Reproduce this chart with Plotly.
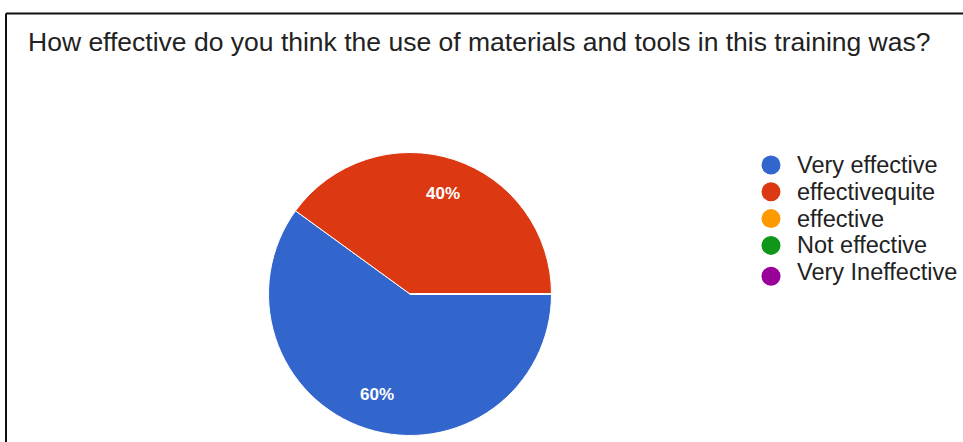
import math
import plotly.graph_objects as go

W, H = 963, 442

categories = ["Very effective", "effectivequite", "effective", "Not effective", "Very Ineffective"]
counts = [3, 2, 0, 0, 0]
colors = ["#3366CC", "#DC3912", "#FF9900", "#109618", "#990099"]
title_text = "How effective do you think the use of materials and tools in this training was?"

fig = go.Figure()

# pie geometry (pixels)
cx, cy, r = 410, 294, 141.5
start_deg = 0.0  # first slice starts at 3 o'clock, going clockwise

fig.add_trace(go.Pie(
    labels=categories,
    values=counts,
    sort=False,
    direction="clockwise",
    rotation=90 - start_deg,
    marker=dict(colors=colors, line=dict(color="white", width=1)),
    textinfo="none",
    showlegend=False,
    hoverinfo="label+percent",
    domain=dict(x=[(cx - r) / W, (cx + r) / W], y=[1 - (cy + r) / H, 1 - (cy - r) / H]),
))

annotations = []

# percentage labels placed along each slice's bisector
total = sum(counts)
ang = start_deg
for c in counts:
    if c <= 0:
        continue
    span = 360.0 * c / total
    mid = math.radians(ang - span / 2)
    px = cx + 0.75 * r * math.cos(mid)
    py = cy - 0.75 * r * math.sin(mid)
    annotations.append(dict(
        x=px / W, y=1 - py / H, xref="paper", yref="paper",
        text=f"<b>{round(100 * c / total)}%</b>", showarrow=False,
        xanchor="center", yanchor="middle",
        font=dict(size=17, color="white", family="Liberation Sans, Arial"),
    ))
    ang -= span

# custom legend with round markers
leg_x_marker, leg_x_text, leg_y0, leg_dy = 771, 795, 165, 26.8
shapes = []
for i, (name, col) in enumerate(zip(categories, colors)):
    yy = leg_y0 + i * leg_dy
    shapes.append(dict(
        type="circle", xref="paper", yref="paper",
        xsizemode="pixel", ysizemode="pixel",
        xanchor=leg_x_marker / W, yanchor=1 - (yy + (4 if i == 4 else 0)) / H,
        x0=-9.5, x1=9.5, y0=-9.5, y1=9.5,
        fillcolor=col, line=dict(width=0),
    ))
    annotations.append(dict(
        x=leg_x_text / W, y=1 - yy / H, xref="paper", yref="paper",
        text=name, showarrow=False, xanchor="left", yanchor="middle",
        font=dict(size=23.5, color="#222222", family="Liberation Sans, Arial"),
    ))

# frame lines (top and left)
shapes += [
    dict(type="line", xref="paper", yref="paper",
         x0=6 / W, x1=1.01, y0=1 - 13.5 / H, y1=1 - 13.5 / H,
         line=dict(color="#111111", width=2)),
    dict(type="line", xref="paper", yref="paper",
         x0=6 / W, x1=6 / W, y0=1 - 13.5 / H, y1=-0.01,
         line=dict(color="#111111", width=2)),
]

fig.update_xaxes(visible=False)
fig.update_yaxes(visible=False)

fig.update_layout(
    width=W, height=H,
    margin=dict(l=0, r=0, t=0, b=0),
    paper_bgcolor="white",
    plot_bgcolor="white",
    showlegend=False,
    font=dict(family="Liberation Sans, Arial", color="#222222"),
    title=dict(
        text=title_text,
        x=28 / W, xanchor="left",
        y=1 - 42 / H, yanchor="middle",
        font=dict(size=26.5, color="#222222", family="Liberation Sans, Arial"),
    ),
    annotations=annotations,
    shapes=shapes,
)

fig.write_html("out.html")
